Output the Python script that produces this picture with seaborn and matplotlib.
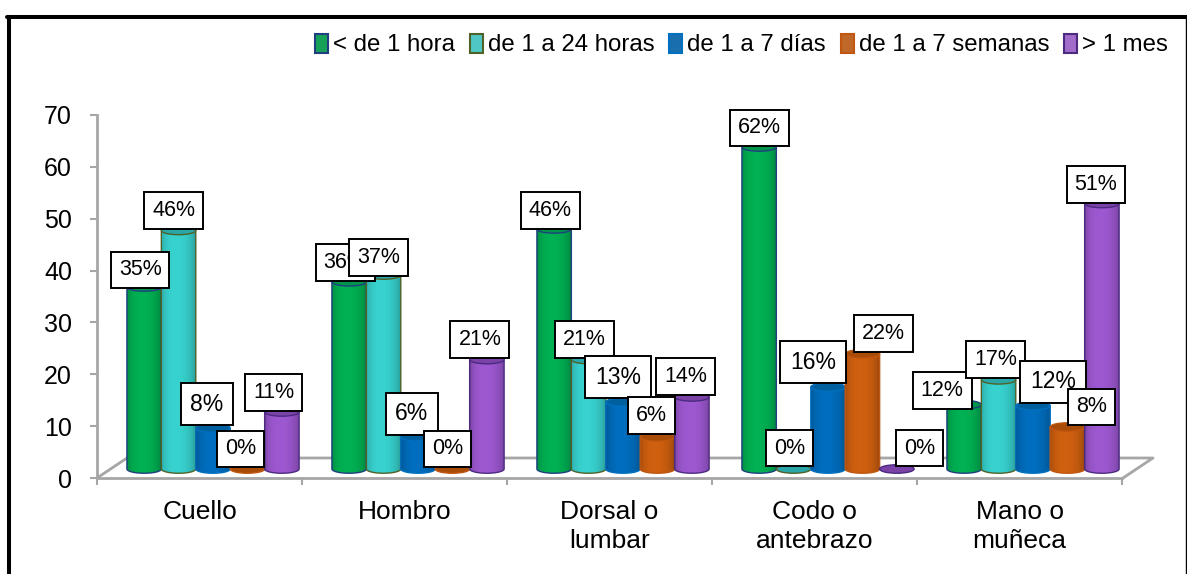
import numpy as np
import pandas as pd
import matplotlib
matplotlib.use('Agg')
import matplotlib.pyplot as plt
import seaborn as sns
from matplotlib.lines import Line2D
from matplotlib.patches import Ellipse, Polygon

zonas = ['Cuello', 'Hombro', 'Dorsal o\nlumbar', 'Codo o\nantebrazo', 'Mano o\nmuñeca']
tiempos = ['< de 1 hora', 'de 1 a 24 horas', 'de 1 a 7 días', 'de 1 a 7 semanas', '> 1 mes']

menos_hora = [35.1, 36.1, 46.3, 62.1, 12.4]
de_1_24h = [46.0, 37.4, 21.1, 0.0, 17.2]
de_1_7d = [7.9, 6.2, 12.9, 15.8, 12.2]
de_1_7s = [0.0, 0.0, 6.2, 22.2, 8.1]
mas_mes = [11.0, 21.1, 13.9, 0.0, 51.2]
etiquetas = [['35%', '36%', '46%', '62%', '12%'],
             ['46%', '37%', '21%', '0%', '17%'],
             ['8%', '6%', '13%', '16%', '12%'],
             ['0%', '0%', '6%', '22%', '8%'],
             ['11%', '21%', '14%', '0%', '51%']]
yticks = [0, 10, 20, 30, 40, 50, 60, 70]

# colours per series: side, top cap, outline
colores = ['#00B856', '#3ADBD8', '#0072C6', '#D86410', '#A45CDA']
tapas = ['#00964A', '#2AA5A8', '#00609F', '#A84C08', '#7B42A8']
bordes = ['#1F3F80', '#4F6228', '#0070C0', '#C0560F', '#4B2A80']

# where the label box sits compared with the top of its bar (pixels)
offsets = [[(-4, 17), (-4, 19), (-4, 18), (0, 19), (-22, 14)],
           [(-5, 20), (-5, 18), (-4, 20), (-4, 21), (-3, 20)],
           [(-6, 24), (-6, 23), (-5, 25), (-15, 25), (20, 24)],
           [(-7, 20), (-5, 20), (-6, 21), (21, 20), (24, 20)],
           [(-8, 19), (-7, 20), (-6, 20), (23, 21), (-6, 19)]]
# these boxes are drawn a bit bigger in the chart (serie, zona)
grandes = [(2, 0), (2, 1), (2, 2), (2, 3), (2, 4)]

W, H = 1187, 574
X0, X1 = 97, 1122
Y0, Y70 = 478, 115
GRIS = '#A6A6A6'

sns.set_style('white')
plt.rcParams['font.family'] = ['Liberation Sans', 'DejaVu Sans']
plt.rcParams['text.color'] = 'black'

df = pd.DataFrame({
    'zona': np.tile(zonas, 5),
    'tiempo': np.repeat(tiempos, 5),
    'valor': menos_hora + de_1_24h + de_1_7d + de_1_7s + mas_mes,
})

fig = plt.figure(figsize=(W / 100, H / 100), dpi=100)
ax = fig.add_axes([X0 / W, 1 - Y0 / H, (X1 - X0) / W, (Y0 - Y70) / H])
ax.patch.set_alpha(0)

sns.barplot(data=df, x='zona', y='valor', hue='tiempo', order=zonas, hue_order=tiempos,
            palette=colores, width=0.84, gap=0, linewidth=0, errorbar=None, ax=ax)

# 3d look: the bars stand a bit up and to the right of the front edge
escala = (Y0 - Y70) / 70
dy = 9 / escala
dx = 13.5 / ((X1 - X0) / 5)
xlim = (-0.5 - dx, 4.5 - dx)
ylim = (-dy, 70 - dy)
alto_tapa = 8.5 / escala

t = np.linspace(0, 1, 80)
sombra = 0.68 + 0.32 * np.sin(np.pi * t) ** 0.4
sombra = sombra * (1 - 0.08 * t)

for s, cont in enumerate(ax.containers):
    color = np.array(matplotlib.colors.to_rgb(colores[s]))
    grad = (sombra[:, None] * color)[None, :, :]
    for g, bar in enumerate(cont):
        x = bar.get_x()
        w = bar.get_width()
        h = bar.get_height()
        cx = x + w / 2
        z = 3 + s
        if h > 0:
            ang = np.linspace(np.pi, 2 * np.pi, 30)
            pts = np.column_stack([cx + w / 2 * np.cos(ang), alto_tapa / 2 * np.sin(ang)])
            pts = np.vstack([[x, h], pts, [x + w, h]])
            poly = Polygon(pts, closed=True, fc='none', ec=bordes[s], lw=1.0, zorder=z + 0.1)
            ax.add_patch(poly)
            im = ax.imshow(grad, extent=(x, x + w, -alto_tapa / 2, h), aspect='auto', zorder=z)
            im.set_clip_path(poly)
        ax.add_patch(Ellipse((cx, h), w, alto_tapa, fc=tapas[s], ec=bordes[s], lw=1.0, zorder=z + 0.2))

for s, cont in enumerate(ax.containers):
    for g, bar in enumerate(cont):
        grande = (s, g) in grandes
        ax.annotate(etiquetas[s][g], (bar.get_x() + bar.get_width() / 2, bar.get_height()),
                    xytext=offsets[s][g], textcoords='offset pixels', ha='center', va='center',
                    fontsize=16.5 if grande else 15.5, color='black', zorder=10,
                    bbox=dict(boxstyle='square,pad=0.42' if grande else 'square,pad=0.37',
                              fc='white', ec='black', lw=1.4))

ax.set_xlim(xlim)
ax.set_ylim(ylim)
ax.set_xlabel('')
ax.set_ylabel('')
ax.set_xticks([i - 0.5 - dx for i in range(6)], minor=True)
ax.set_xticks([i - dx for i in range(5)], zonas)
ax.set_yticks([v - dy for v in yticks], yticks)
ax.tick_params(axis='x', which='major', length=0, pad=16, labelsize=19, labelcolor='black')
ax.tick_params(axis='x', which='minor', length=5, width=1.5, color=GRIS, bottom=True)
ax.tick_params(axis='y', length=5, width=1.5, color=GRIS, left=True, pad=13, labelsize=18, labelcolor='black')
for lab in ax.get_xticklabels():
    lab.set_linespacing(1.25)
for lado in ['top', 'right']:
    ax.spines[lado].set_visible(False)
for lado in ['left', 'bottom']:
    ax.spines[lado].set_color(GRIS)
    ax.spines[lado].set_linewidth(2)

sns.move_legend(ax, 'center right', bbox_to_anchor=(1168 / W, 1 - 45 / H),
                bbox_transform=fig.transFigure, ncol=5, title=None, frameon=False, fontsize=17.3,
                handlelength=0.55, handleheight=0.85, handletextpad=0.2, columnspacing=0.62,
                borderaxespad=0, borderpad=0, labelcolor='black')
for s, hd in enumerate(ax.get_legend().legend_handles):
    hd.set_edgecolor(bordes[s])
    hd.set_linewidth(1.5)


def linea(xs, ys, **kws):
    fig.add_artist(Line2D([v / W for v in xs], [1 - v / H for v in ys], transform=fig.transFigure, **kws))


# floor of the 3d chart
linea([97, 127, 1153, 1123], [478, 458, 458, 478], color=GRIS, lw=2, zorder=-1)
# outer frame (open at the bottom in the reference)
linea([8.5, 8.5], [574, 16.5], color='black', lw=2.9)
linea([7, 1187], [16.5, 16.5], color='black', lw=2.9)
linea([1185.5, 1185.5], [16, 574], color='black', lw=1)

plt.savefig('out.png', dpi=100)
